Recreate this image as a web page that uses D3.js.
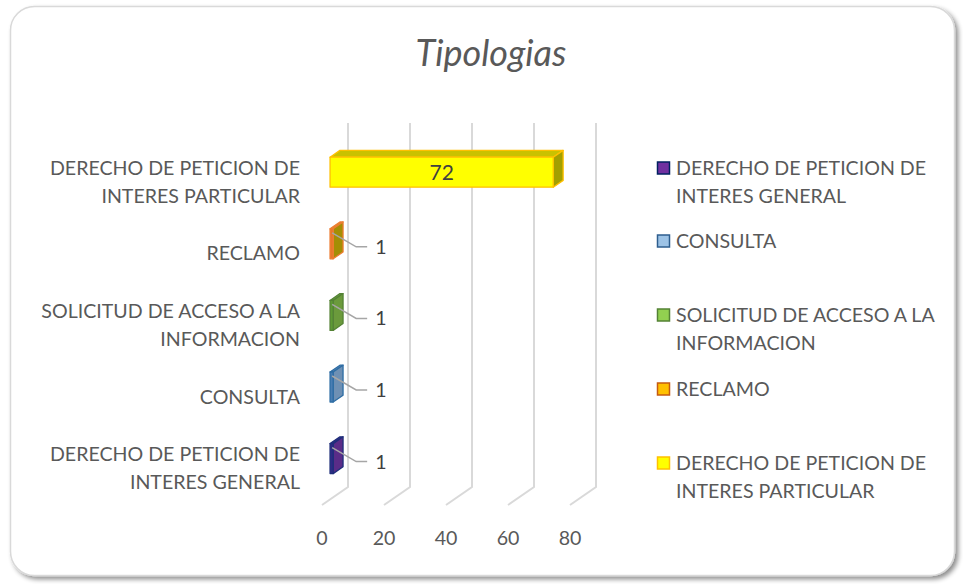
<!DOCTYPE html>
<html>
<head>
<meta charset="utf-8">
<script src="https://cdn.jsdelivr.net/npm/d3@7"></script>
<style>
  html, body { margin: 0; padding: 0; background: #fff; }
  svg { display: block; }
  text { font-family: Lato, "Open Sans", sans-serif; }
</style>
</head>
<body>
<svg id="chart" width="963" height="584"></svg>
<script>
// ---- data ----
const title = "Tipologias";
const categories = [
  "DERECHO DE PETICION DE INTERES GENERAL",
  "CONSULTA",
  "SOLICITUD DE ACCESO A LA INFORMACION",
  "RECLAMO",
  "DERECHO DE PETICION DE INTERES PARTICULAR"
];
const categoryLines = [
  ["DERECHO DE PETICION DE", "INTERES GENERAL"],
  ["CONSULTA"],
  ["SOLICITUD DE ACCESO A LA", "INFORMACION"],
  ["RECLAMO"],
  ["DERECHO DE PETICION DE", "INTERES PARTICULAR"]
];
const values = [1, 1, 1, 1, 72];
const xTicks = [0, 20, 40, 60, 80];
// series colours: legend fill, legend stroke, bar front, bar side, bar top, bar stroke
const legendFill   = ["#7030A0", "#9DC3E6", "#92D050", "#FFC000", "#FFFF00"];
const legendStroke = ["#002060", "#2E5E8E", "#548235", "#C55A11", "#FFC000"];
const barFront     = ["#2E2A86", "#4A7DB3", "#5E9A34", "#E8782A", "#FFFF00"];
const barSide      = ["#5A2C88", "#6E90B4", "#6B9A3C", "#A48E05", "#A3A000"];
const barTop       = ["#3A2C8A", "#5C86B4", "#6AA03C", "#E08A30", "#C9C200"];
const barStroke    = ["#1F2E7A", "#2E6DA4", "#548235", "#ED7D31", "#FFC000"];

// ---- layout ----
const svg = d3.select("#chart");
const depthX = 26, depthY = -18;     // back wall offset
const d1 = 0.31, d2 = 0.69;          // bar depth fractions
const x = d3.scaleLinear().domain([0, 80]).range([322, 570]);
const y = d3.scaleBand().domain(d3.range(categories.length).reverse()).range([142, 500]);
const floorFront = 505;
const barH = 30;
const fs = 19.6;

// frame with shadow
const defs = svg.append("defs");
const f = defs.append("filter").attr("id", "sh").attr("x", "-5%").attr("y", "-5%").attr("width", "110%").attr("height", "110%");
f.append("feGaussianBlur").attr("in", "SourceAlpha").attr("stdDeviation", 2.5);
f.append("feOffset").attr("dx", 3).attr("dy", 3).attr("result", "b");
f.append("feComponentTransfer").append("feFuncA").attr("type", "linear").attr("slope", 0.45);
const m = f.append("feMerge");
m.append("feMergeNode");
m.append("feMergeNode").attr("in", "SourceGraphic");

svg.append("rect").attr("x", 10.5).attr("y", 6.5).attr("width", 944).attr("height", 569)
  .attr("rx", 24).attr("ry", 24).attr("fill", "#fff").attr("stroke", "#d9d9d9").attr("stroke-width", 1.5)
  .attr("filter", "url(#sh)");

// title
svg.append("text").attr("x", 491).attr("y", 66).attr("text-anchor", "middle")
  .attr("font-size", 36).attr("font-style", "italic").attr("fill", "#595959").text(title);

// gridlines: back wall vertical + floor diagonal
const grid = svg.append("g").attr("stroke", "#d9d9d9").attr("stroke-width", 2).attr("fill", "none");
xTicks.forEach(t => {
  const xb = x(t) + depthX;
  grid.append("path").attr("d", d3.line()([
    [xb, 142 + depthY - 1], [xb, floorFront + depthY], [x(t), floorFront]
  ]));
});

// x tick labels
svg.append("g").selectAll("text").data(xTicks).join("text")
  .attr("x", d => x(d)).attr("y", 545).attr("text-anchor", "middle")
  .attr("font-size", fs).attr("fill", "#595959").text(d => d);

// bars
const bars = svg.append("g");
values.forEach((v, i) => {
  const cy = y(i) + y.bandwidth() / 2 + d1 * depthY;  // front face centre
  const x0 = x(0) + d1 * depthX, x1 = x(v) + d1 * depthX;
  const y0 = cy - barH / 2, y1 = cy + barH / 2;
  const ox = (d2 - d1) * depthX, oy = (d2 - d1) * depthY;
  const g = bars.append("g").attr("stroke", barStroke[i]).attr("stroke-width", 1.3).attr("stroke-linejoin", "round");
  g.append("path").attr("fill", barTop[i])
    .attr("d", d3.line()([[x0, y0], [x0 + ox, y0 + oy], [x1 + ox, y0 + oy], [x1, y0]]) + "Z");
  g.append("path").attr("fill", barSide[i])
    .attr("d", d3.line()([[x1, y0], [x1 + ox, y0 + oy], [x1 + ox, y1 + oy], [x1, y1]]) + "Z");
  g.append("path").attr("fill", barFront[i])
    .attr("d", d3.line()([[x0, y0], [x1, y0], [x1, y1], [x0, y1]]) + "Z");
});

// data labels
const labels = svg.append("g");
values.forEach((v, i) => {
  const cy = y(i) + y.bandwidth() / 2 + d1 * depthY;
  if (v > 20) {
    labels.append("text").attr("x", (x(0) + x(v)) / 2 + d1 * depthX).attr("y", cy + 8)
      .attr("text-anchor", "middle").attr("font-size", 21).attr("fill", "#404040").text(v);
  } else {
    const sx = x(v) + d1 * depthX - 1, sy = cy - 11;
    labels.append("path").attr("fill", "none").attr("stroke", "#a6a6a6").attr("stroke-width", 1.5)
      .attr("d", d3.line()([[sx, sy], [sx + 24, sy + 14], [sx + 35, sy + 14]]));
    labels.append("text").attr("x", sx + 43).attr("y", sy + 21)
      .attr("text-anchor", "start").attr("font-size", fs).attr("fill", "#404040").text(v);
  }
});

// category labels
const cat = svg.append("g");
categoryLines.forEach((lines, i) => {
  const cy = y(i) + y.bandwidth() / 2 + 4;
  const lh = 28;
  lines.forEach((ln, k) => {
    cat.append("text").attr("x", 300).attr("y", cy + (k - (lines.length - 1) / 2) * lh + 7)
      .attr("text-anchor", "end").attr("font-size", fs).attr("fill", "#595959").text(ln);
  });
});

// legend
const legendY = [168, 241, 315, 389, 463];
const leg = svg.append("g");
categoryLines.forEach((lines, i) => {
  leg.append("rect").attr("x", 657.5).attr("y", legendY[i] - 6).attr("width", 12).attr("height", 12)
    .attr("fill", legendFill[i]).attr("stroke", legendStroke[i]).attr("stroke-width", 1.5);
  lines.forEach((ln, k) => {
    leg.append("text").attr("x", 676).attr("y", legendY[i] + 7 + k * 28)
      .attr("font-size", fs).attr("fill", "#595959").text(ln);
  });
});
</script>
</body>
</html>
